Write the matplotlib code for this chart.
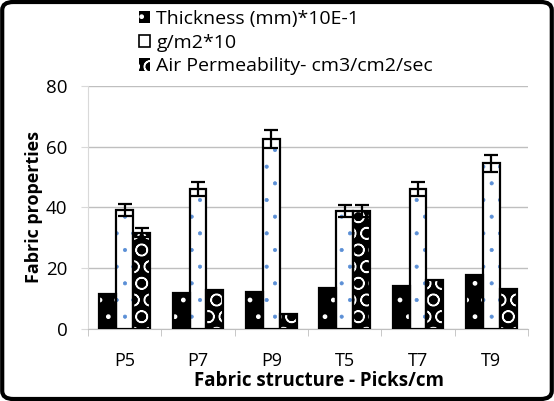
import matplotlib
matplotlib.use("Agg")
import matplotlib.pyplot as plt
import numpy as np
from matplotlib.patches import Patch, FancyBboxPatch

plt.rcParams['font.family'] = ['Open Sans', 'DejaVu Sans']
plt.rcParams['hatch.linewidth'] = 1.0

categories = ["P5", "P7", "P9", "T5", "T7", "T9"]
thickness = [11.5, 11.9, 12.0, 13.6, 14.2, 17.8]
gsm = [39.1, 46.0, 62.6, 38.9, 46.0, 54.5]
gsm_err = [2.0, 2.3, 3.0, 2.0, 2.2, 2.8]
air = [31.7, 12.8, 4.8, 38.9, 16.1, 13.0]
air_err = [1.5, 0.0, 0.0, 2.0, 0.0, 0.0]
series_names = ["Thickness (mm)*10E-1", "g/m2*10", "Air Permeability- cm3/cm2/sec"]

fig = plt.figure(figsize=(5.54, 4.01), dpi=100)
ax = fig.add_axes([0.159, 0.180, 0.794, 0.606])

x = np.arange(len(categories))
w = 0.23
offs = [-w, 0, w]

def hbar(xs, vals, face, hcol, hatch, hlw):
    with plt.rc_context({'hatch.linewidth': hlw}):
        ax.bar(xs, vals, w, color=face, edgecolor=hcol, hatch=hatch, linewidth=0, zorder=3)
    ax.bar(xs, vals, w, fill=False, edgecolor='black', linewidth=1.6, zorder=4)

hbar(x + offs[0], thickness, 'black', 'white', '.', 1.0)
hbar(x + offs[1], gsm, 'white', '#5b8fd6', '.', 0.5)
hbar(x + offs[2], air, 'black', 'white', 'O', 1.0)

ax.errorbar(x + offs[1], gsm, yerr=gsm_err, fmt='none', ecolor='black', capsize=5, elinewidth=1.6, capthick=1.6, zorder=5)
ae = np.array(air_err)
m = ae > 0
ax.errorbar((x + offs[2])[m], np.array(air)[m], yerr=ae[m], fmt='none', ecolor='black', capsize=5, elinewidth=1.6, capthick=1.6, zorder=5)

ax.set_xlim(-0.5, len(categories) - 0.5)
ax.set_ylim(0, 80)
ax.set_yticks([0, 20, 40, 60, 80])
ax.yaxis.grid(True, color='#bfbfbf', linewidth=1)
ax.set_axisbelow(True)
for s in ['top', 'right']:
    ax.spines[s].set_visible(False)
ax.spines['left'].set_color('#d9d9d9')
ax.spines['bottom'].set_color('#bfbfbf')
ax.set_xticks(x)
ax.set_xticklabels(categories)
ax.set_xticks(np.arange(-0.5, len(categories), 1), minor=True)
ax.tick_params(axis='x', which='major', length=0, labelsize=13, pad=17)
ax.tick_params(axis='x', which='minor', length=5, color='#bfbfbf')
ax.tick_params(axis='y', length=5, color='#d9d9d9', labelsize=13.5, pad=10)
ax.set_xlabel("Fabric structure - Picks/cm", fontsize=13.5, fontweight='bold', labelpad=0)
ax.xaxis.set_label_coords(0.524, -0.172)
ax.set_ylabel("Fabric properties", fontsize=13, fontweight='bold', labelpad=2)

handles = [Patch(facecolor='black', edgecolor='white', hatch='.', linewidth=0),
           Patch(facecolor='white', edgecolor='black', linewidth=1.2),
           Patch(facecolor='black', edgecolor='white', hatch='O', linewidth=0)]
fig.legend(handles, series_names, loc='upper left', bbox_to_anchor=(0.233, 1.0),
           frameon=False, fontsize=14, handlelength=0.6, handleheight=0.6,
           handletextpad=0.3, labelspacing=0.3, borderaxespad=0.1)

border = FancyBboxPatch((0.004, 0.005), 0.992, 0.99, boxstyle="round,pad=0,rounding_size=0.02",
                        transform=fig.transFigure, fill=False, edgecolor='black', linewidth=3)
fig.patches.append(border)

fig.savefig("out.png", dpi=100)
